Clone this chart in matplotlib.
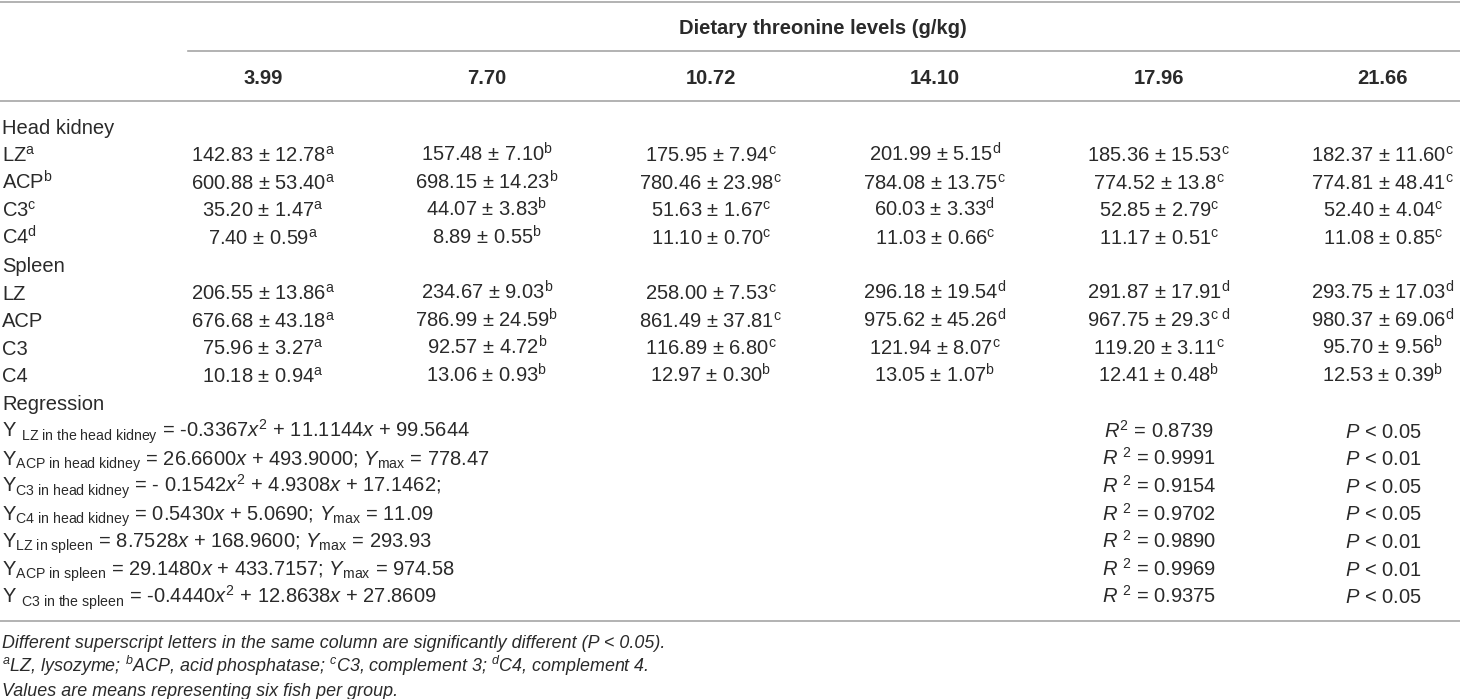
import matplotlib.pyplot as plt

# Fuentes: Liberation Sans se parece a la Helvetica del original
plt.rcParams['font.family'] = ['Liberation Sans', 'DejaVu Sans']
plt.rcParams['mathtext.fontset'] = 'custom'
plt.rcParams['mathtext.rm'] = 'Liberation Sans'
plt.rcParams['mathtext.it'] = 'Liberation Sans:italic'
plt.rcParams['mathtext.bf'] = 'Liberation Sans:bold'

# Datos de la tabla
titulo = 'Dietary threonine levels (g/kg)'
niveles = ['3.99', '7.70', '10.72', '14.10', '17.96', '21.66']

# Riñón cefálico (head kidney)
hk_lz_media = ['142.83', '157.48', '175.95', '201.99', '185.36', '182.37']
hk_lz_de = ['12.78', '7.10', '7.94', '5.15', '15.53', '11.60']
hk_lz_letra = ['a', 'b', 'c', 'd', 'c', 'c']
hk_acp_media = ['600.88', '698.15', '780.46', '784.08', '774.52', '774.81']
hk_acp_de = ['53.40', '14.23', '23.98', '13.75', '13.8', '48.41']
hk_acp_letra = ['a', 'b', 'c', 'c', 'c', 'c']
hk_c3_media = ['35.20', '44.07', '51.63', '60.03', '52.85', '52.40']
hk_c3_de = ['1.47', '3.83', '1.67', '3.33', '2.79', '4.04']
hk_c3_letra = ['a', 'b', 'c', 'd', 'c', 'c']
hk_c4_media = ['7.40', '8.89', '11.10', '11.03', '11.17', '11.08']
hk_c4_de = ['0.59', '0.55', '0.70', '0.66', '0.51', '0.85']
hk_c4_letra = ['a', 'b', 'c', 'c', 'c', 'c']

# Bazo (spleen)
sp_lz_media = ['206.55', '234.67', '258.00', '296.18', '291.87', '293.75']
sp_lz_de = ['13.86', '9.03', '7.53', '19.54', '17.91', '17.03']
sp_lz_letra = ['a', 'b', 'c', 'd', 'd', 'd']
sp_acp_media = ['676.68', '786.99', '861.49', '975.62', '967.75', '980.37']
sp_acp_de = ['43.18', '24.59', '37.81', '45.26', '29.3', '69.06']
sp_acp_letra = ['a', 'b', 'c', 'd', 'c d', 'd']
sp_c3_media = ['75.96', '92.57', '116.89', '121.94', '119.20', '95.70']
sp_c3_de = ['3.27', '4.72', '6.80', '8.07', '3.11', '9.56']
sp_c3_letra = ['a', 'b', 'c', 'c', 'c', 'b']
sp_c4_media = ['10.18', '13.06', '12.97', '13.05', '12.41', '12.53']
sp_c4_de = ['0.94', '0.93', '0.30', '1.07', '0.48', '0.39']
sp_c4_letra = ['a', 'b', 'b', 'b', 'b', 'b']

# Regresiones
ecuaciones = [
    r'Y $_{\mathrm{LZ\ in\ the\ head\ kidney}}$ = -0.3367$\mathit{x}^{2}$ + 11.1144$\mathit{x}$ + 99.5644',
    r'Y$_{\mathrm{ACP\ in\ head\ kidney}}$ = 26.6600$\mathit{x}$ + 493.9000; $\mathit{Y}_{\mathrm{max}}$ = 778.47',
    r'Y$_{\mathrm{C3\ in\ head\ kidney}}$ = - 0.1542$\mathit{x}^{2}$ + 4.9308$\mathit{x}$ + 17.1462;',
    r'Y$_{\mathrm{C4\ in\ head\ kidney}}$ = 0.5430$\mathit{x}$ + 5.0690; $\mathit{Y}_{\mathrm{max}}$ = 11.09',
    r'Y$_{\mathrm{LZ\ in\ spleen}}$ = 8.7528$\mathit{x}$ + 168.9600; $\mathit{Y}_{\mathrm{max}}$ = 293.93',
    r'Y$_{\mathrm{ACP\ in\ spleen}}$ = 29.1480$\mathit{x}$ + 433.7157; $\mathit{Y}_{\mathrm{max}}$ = 974.58',
    r'Y $_{\mathrm{C3\ in\ the\ spleen}}$ = -0.4440$\mathit{x}^{2}$ + 12.8638$\mathit{x}$ + 27.8609',
]
r2 = ['0.8739', '0.9991', '0.9154', '0.9702', '0.9890', '0.9969', '0.9375']
valor_p = ['0.05', '0.01', '0.05', '0.05', '0.01', '0.01', '0.05']

notas = [
    'Different superscript letters in the same column are significantly different (P < 0.05).',
    r'$^{\mathit{a}}$LZ, lysozyme; $^{\mathit{b}}$ACP, acid phosphatase; '
    r'$^{\mathit{c}}$C3, complement 3; $^{\mathit{d}}$C4, complement 4.',
    'Values are means representing six fish per group.',
]

filas = [
    ('Head kidney', None),
    (r'LZ$^{\mathrm{a}}$', (hk_lz_media, hk_lz_de, hk_lz_letra)),
    (r'ACP$^{\mathrm{b}}$', (hk_acp_media, hk_acp_de, hk_acp_letra)),
    (r'C3$^{\mathrm{c}}$', (hk_c3_media, hk_c3_de, hk_c3_letra)),
    (r'C4$^{\mathrm{d}}$', (hk_c4_media, hk_c4_de, hk_c4_letra)),
    ('Spleen', None),
    ('LZ', (sp_lz_media, sp_lz_de, sp_lz_letra)),
    ('ACP', (sp_acp_media, sp_acp_de, sp_acp_letra)),
    ('C3', (sp_c3_media, sp_c3_de, sp_c3_letra)),
    ('C4', (sp_c4_media, sp_c4_de, sp_c4_letra)),
    ('Regression', None),
]

# Disposición (en píxeles)
ANCHO, ALTO = 1460, 699
col_x0, col_paso = 263, 224
fila_y0, fila_paso = 127, 27.6
baja = 7.0  # del centro a la línea base
tam = 14.5
tam_nota = 12.9
color_texto = '#2a2a2a'
color_linea = '#a6a6a6'


def celda(media, de, letra):
    letra = letra.replace(' ', r'\ ')
    return media + ' ± ' + de + r'$^{\mathrm{' + letra + '}}$'


fig = plt.figure(figsize=(ANCHO / 100, ALTO / 100), dpi=100)
ax = fig.add_axes([0, 0, 1, 1])
ax.set_xlim(0, ANCHO)
ax.set_ylim(ALTO, 0)
ax.axis('off')

# Líneas horizontales
ax.plot([0, ANCHO], [2, 2], color=color_linea, lw=1.2)
ax.plot([188, ANCHO], [51, 51], color=color_linea, lw=1.2)
ax.plot([0, ANCHO], [101, 101], color=color_linea, lw=1.2)
ax.plot([0, ANCHO], [621, 621], color=color_linea, lw=1.2)

# Cabecera
ax.text(col_x0 + col_paso * 2.5, 27 + baja, titulo, ha='center', va='baseline',
        fontsize=tam, fontweight='bold', color=color_texto)
for i, n in enumerate(niveles):
    ax.text(col_x0 + col_paso * i, 77 + baja, n, ha='center', va='baseline',
            fontsize=tam, fontweight='bold', color=color_texto)

# Cuerpo
for k, (etiqueta, datos) in enumerate(filas):
    y = fila_y0 + fila_paso * k + baja
    ax.text(2, y, etiqueta, ha='left', va='baseline', fontsize=tam, color=color_texto)
    if datos is None:
        continue
    medias, des, letras = datos
    for i in range(len(medias)):
        ax.text(col_x0 + col_paso * i, y, celda(medias[i], des[i], letras[i]),
                ha='center', va='baseline', fontsize=tam, color=color_texto)

# Regresiones
for j, eq in enumerate(ecuaciones):
    y = fila_y0 + fila_paso * (len(filas) + j) + baja
    ax.text(2, y, eq, ha='left', va='baseline', fontsize=tam, color=color_texto)
    r_txt = r'$\mathit{R}^{2}$ = ' if j == 0 else r'$\mathit{R}$ $^{2}$ = '
    ax.text(col_x0 + col_paso * 4, y, r_txt + r2[j], ha='center', va='baseline',
            fontsize=tam, color=color_texto)
    ax.text(col_x0 + col_paso * 5, y, r'$\mathit{P}$ < ' + valor_p[j], ha='center',
            va='baseline', fontsize=tam, color=color_texto)

# Notas al pie
for j, nota in enumerate(notas):
    ax.text(2, 641 + 24 * j + 6.5, nota, ha='left', va='baseline', fontsize=tam_nota,
            style='italic', color=color_texto)

fig.savefig('out.png', dpi=100)
